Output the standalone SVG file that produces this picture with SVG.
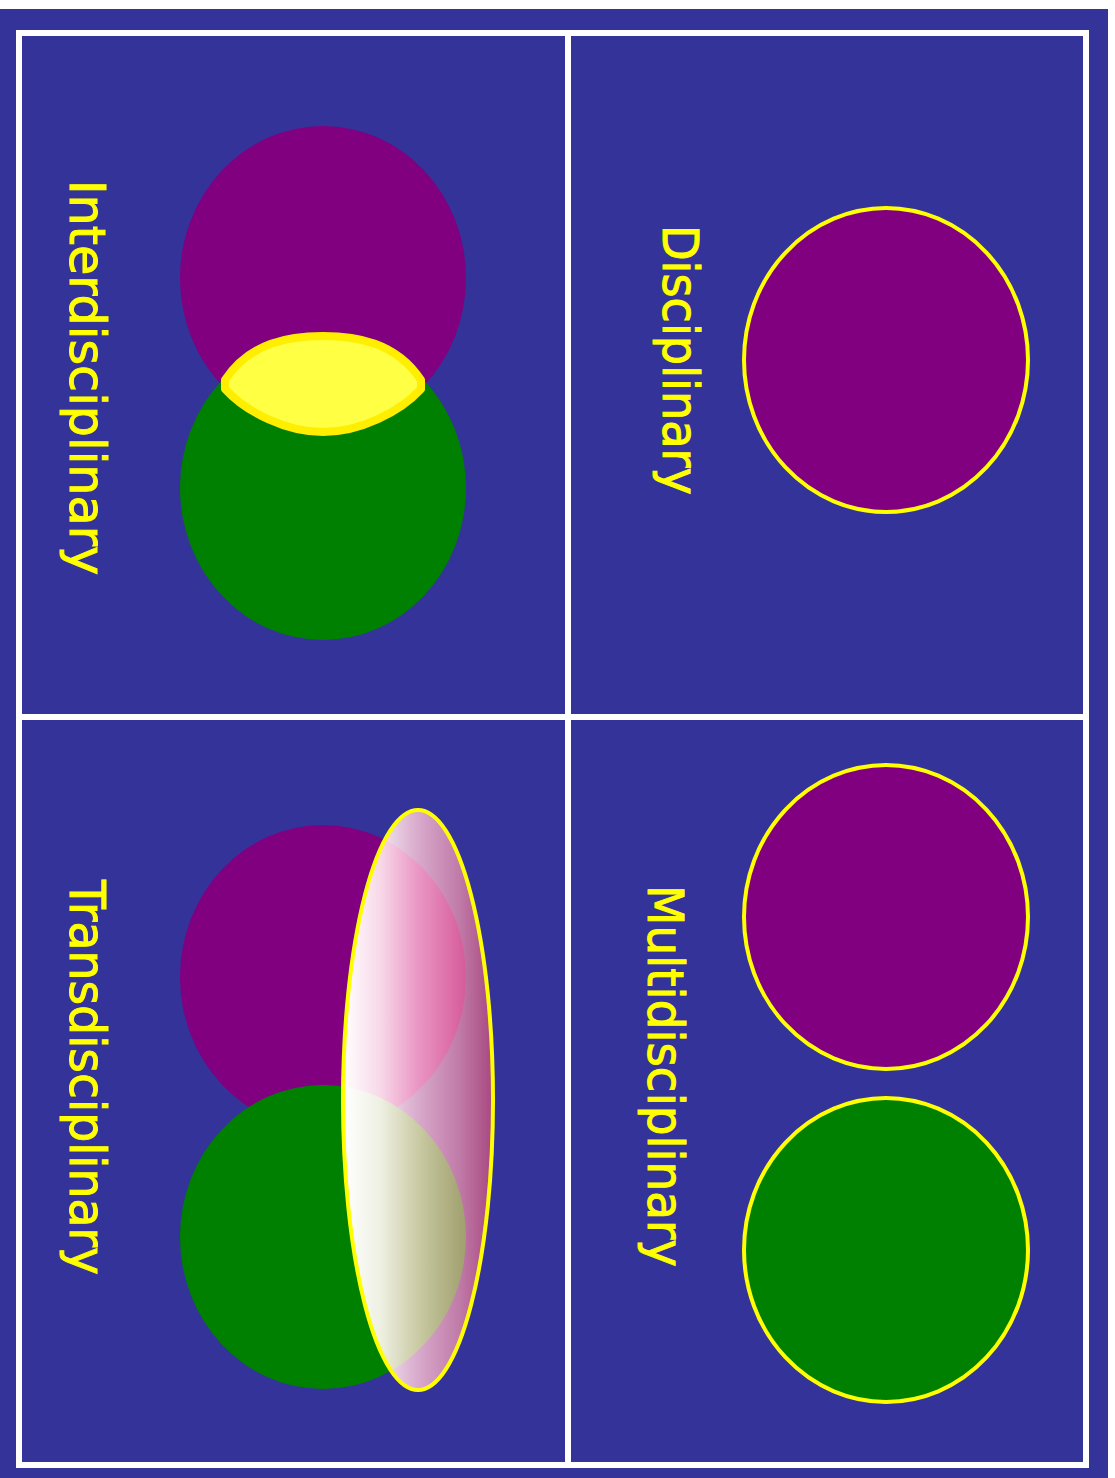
<svg xmlns="http://www.w3.org/2000/svg" width="1115" height="1478" viewBox="0 0 1115 1478">
<defs>
<style>
.lbl{font-family:"DejaVu Sans","Liberation Sans",sans-serif;font-size:49px;fill:#ffff00;stroke:#ffff00;stroke-width:1;}
.frame{fill:none;stroke:#ffffff;stroke-width:6;}
.purple{fill:#800080;}
.green{fill:#008000;}
.ring{stroke:#ffff00;stroke-width:4;}
</style>
<linearGradient id="gBlue" gradientUnits="userSpaceOnUse" x1="343" y1="0" x2="493" y2="0">
<stop offset="0" stop-color="#ffffff"/>
<stop offset="0.25" stop-color="#f2e4ee"/>
<stop offset="0.5" stop-color="#d8aacc"/>
<stop offset="0.78" stop-color="#c07aa8"/>
<stop offset="1" stop-color="#a84880"/>
</linearGradient>
<linearGradient id="gPurple" gradientUnits="userSpaceOnUse" x1="343" y1="0" x2="493" y2="0">
<stop offset="0" stop-color="#ffffff"/>
<stop offset="0.25" stop-color="#f8d8e8"/>
<stop offset="0.5" stop-color="#ea96c4"/>
<stop offset="0.78" stop-color="#d8629f"/>
<stop offset="1" stop-color="#c04888"/>
</linearGradient>
<linearGradient id="gGreen" gradientUnits="userSpaceOnUse" x1="343" y1="0" x2="493" y2="0">
<stop offset="0" stop-color="#ffffff"/>
<stop offset="0.25" stop-color="#eef0e2"/>
<stop offset="0.5" stop-color="#cacaa4"/>
<stop offset="0.78" stop-color="#a4a474"/>
<stop offset="1" stop-color="#909060"/>
</linearGradient>
<clipPath id="lensClip">
<ellipse cx="418" cy="1100" rx="75" ry="290"/>
</clipPath>
</defs>
<rect x="0" y="0" width="1115" height="1478" fill="#ffffff"/>
<rect x="0" y="9" width="1108" height="1469" fill="#333399"/>
<g id="frame">
<rect class="frame" x="19" y="33" width="1067" height="1432"/>
<line class="frame" x1="568" y1="33" x2="568" y2="1465"/>
<line class="frame" x1="19" y1="717" x2="1086" y2="717"/>
</g>
<g id="disciplinary">
<ellipse class="purple ring" cx="886" cy="360" rx="142" ry="152"/>
<text class="lbl" transform="translate(663,225) rotate(90)" textLength="270" lengthAdjust="spacingAndGlyphs">Disciplinary</text>
</g>
<g id="multidisciplinary">
<ellipse class="purple ring" cx="886" cy="917" rx="142" ry="152"/>
<ellipse class="green ring" cx="886" cy="1250" rx="142" ry="152"/>
<text class="lbl" transform="translate(648,885) rotate(90)" textLength="382" lengthAdjust="spacingAndGlyphs">Multidisciplinary</text>
</g>
<g id="interdisciplinary">
<ellipse class="purple" cx="323" cy="278" rx="143" ry="152"/>
<ellipse class="green" cx="323" cy="488" rx="143" ry="152"/>
<path d="M225,380 C250,342 290,336 323,336 C356,336 396,342 421,380 L421,389 C400,412 360,432 323,432 C286,432 246,412 225,389 Z" fill="#ffff44" stroke="#ffee00" stroke-width="8" stroke-linejoin="round"/>
<text class="lbl" transform="translate(70,180) rotate(90)" textLength="395" lengthAdjust="spacingAndGlyphs">Interdisciplinary</text>
</g>
<g id="transdisciplinary">
<ellipse class="purple" cx="323" cy="977" rx="143" ry="152"/>
<ellipse class="green" cx="323" cy="1237" rx="143" ry="152"/>
<g clip-path="url(#lensClip)">
<rect x="343" y="810" width="150" height="580" fill="url(#gBlue)"/>
<ellipse cx="323" cy="977" rx="143" ry="152" fill="url(#gPurple)"/>
<ellipse cx="323" cy="1237" rx="143" ry="152" fill="url(#gGreen)"/>
</g>
<ellipse cx="418" cy="1100" rx="75" ry="290" fill="none" stroke="#ffff00" stroke-width="4"/>
<text class="lbl" transform="translate(70,880) rotate(90)" textLength="395" lengthAdjust="spacingAndGlyphs">Transdisciplinary</text>
</g>
</svg>
